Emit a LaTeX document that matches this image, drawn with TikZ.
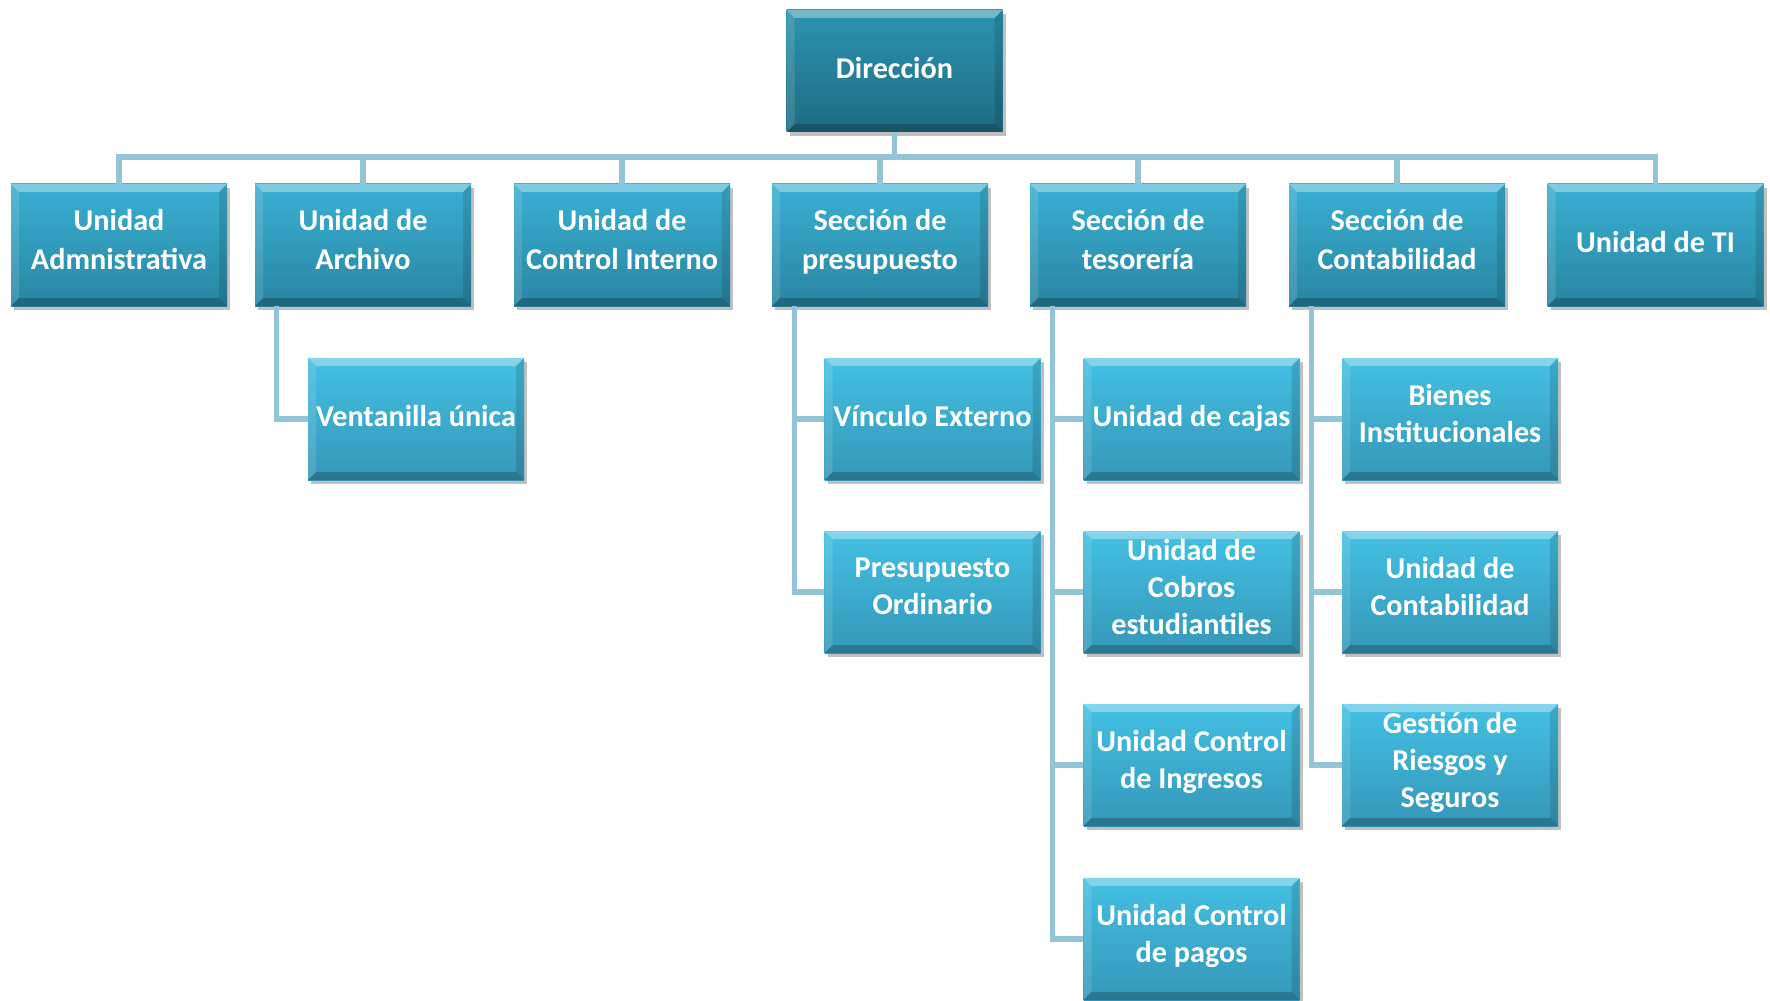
\documentclass[tikz,border=0pt]{standalone}
\usepackage{fontspec}
\setmainfont{Carlito}
\usetikzlibrary{shadows,calc}
\definecolor{lineC}{HTML}{93C5D6}
\definecolor{aTop}{HTML}{2C93B1}
\definecolor{aBot}{HTML}{1F6C83}
\definecolor{bTop}{HTML}{39B0D3}
\definecolor{bBot}{HTML}{2985A2}
\definecolor{cTop}{HTML}{43C0E3}
\definecolor{cBot}{HTML}{3597B8}
\newcommand\myendfix{\rule[-3.4pt]{0pt}{1pt}}
\tikzset{
  x=0.5pt, y=-0.5pt,
  bevel/.style={path picture={
    \fill[white,opacity=0.35] (path picture bounding box.north west) -- (path picture bounding box.north east)
      -- ([xshift=-4pt,yshift=-4pt]path picture bounding box.north east) -- ([xshift=4pt,yshift=-4pt]path picture bounding box.north west) -- cycle;
    \fill[white,opacity=0.12] (path picture bounding box.north west) -- ([xshift=4pt,yshift=-4pt]path picture bounding box.north west)
      -- ([xshift=4pt,yshift=4pt]path picture bounding box.south west) -- (path picture bounding box.south west) -- cycle;
    \fill[black,opacity=0.12] (path picture bounding box.north east) -- ([xshift=-4pt,yshift=-4pt]path picture bounding box.north east)
      -- ([xshift=-4pt,yshift=4pt]path picture bounding box.south east) -- (path picture bounding box.south east) -- cycle;
    \fill[black,opacity=0.22] (path picture bounding box.south west) -- (path picture bounding box.south east)
      -- ([xshift=-4pt,yshift=4pt]path picture bounding box.south east) -- ([xshift=4pt,yshift=4pt]path picture bounding box.south west) -- cycle;
  }},
  box/.style={rectangle, minimum width=108pt, minimum height=61pt, inner sep=0pt,
    align=center, text=white, font=\bfseries\fontsize{15.1}{19.2}\selectfont,
    execute at begin node=\strut, execute at end node=\myendfix,
    drop shadow={shadow xshift=1.5pt, shadow yshift=-2pt, opacity=0.35, fill=black!70}, bevel},
  lvlA/.style={box, top color=aTop, bottom color=aBot},
  lvlB/.style={box, top color=bTop, bottom color=bBot},
  lvlC/.style={box, top color=cTop, bottom color=cBot, font=\bfseries\fontsize{15.1}{18.5}\selectfont},
  conn/.style={draw=lineC, line width=2.6pt, line join=miter}
}
\begin{document}
\begin{tikzpicture}
\useasboundingbox (0,0) rectangle (1770,1000);
\fill[white] (0,0) rectangle (1770,1000);

\coordinate (bus) at (894.5,157);

\node[lvlA] (dir) at (894.5,71) {Dirección};

\node[lvlB] (ua) at (119,245) {Unidad\\Admnistrativa};
\node[lvlB] (uar) at (363,245) {Unidad de\\Archivo};
\node[lvlB] (uci) at (622,245) {Unidad de\\Control Interno};
\node[lvlB] (sp) at (880,245) {Sección de\\presupuesto};
\node[lvlB] (st) at (1138,245) {Sección de\\tesorería};
\node[lvlB] (sc) at (1397,245) {Sección de\\Contabilidad};
\node[lvlB] (uti) at (1655.5,245) {Unidad de TI};

\node[lvlC] (vu) at (416,419) {Ventanilla única};

\node[lvlC] (ve) at (932.5,419) {Vínculo Externo};
\node[lvlC] (po) at (932.5,592) {Presupuesto\\Ordinario};

\node[lvlC] (uc) at (1191.5,419) {Unidad de cajas};
\node[lvlC] (uce) at (1191.5,592) {Unidad de\\Cobros\\estudiantiles};
\node[lvlC] (uci2) at (1191.5,765) {Unidad Control\\de Ingresos};
\node[lvlC] (ucp) at (1191.5,939) {Unidad Control\\de pagos};

\node[lvlC] (bi) at (1450,419) {Bienes\\Institucionales};
\node[lvlC] (udc) at (1450,592) {Unidad de\\Contabilidad};
\node[lvlC] (grs) at (1450,765) {Gestión de\\Riesgos y\\Seguros};

\draw[conn] (dir.south) -- (bus);
\foreach \n in {ua,uar,uci,sp,st,sc,uti}
  \draw[conn] (bus) -| (\n.north);

\draw[conn] ([xshift=11pt]uar.south west) |- (vu.west);
\draw[conn] ([xshift=11.5pt]sp.south west) |- (ve.west);
\draw[conn] ([xshift=11.5pt]sp.south west) |- (po.west);
\draw[conn] ([xshift=11.5pt]st.south west) |- (uc.west);
\draw[conn] ([xshift=11.5pt]st.south west) |- (uce.west);
\draw[conn] ([xshift=11.5pt]st.south west) |- (uci2.west);
\draw[conn] ([xshift=11.5pt]st.south west) |- (ucp.west);
\draw[conn] ([xshift=11.5pt]sc.south west) |- (bi.west);
\draw[conn] ([xshift=11.5pt]sc.south west) |- (udc.west);
\draw[conn] ([xshift=11.5pt]sc.south west) |- (grs.west);
\end{tikzpicture}
\end{document}
